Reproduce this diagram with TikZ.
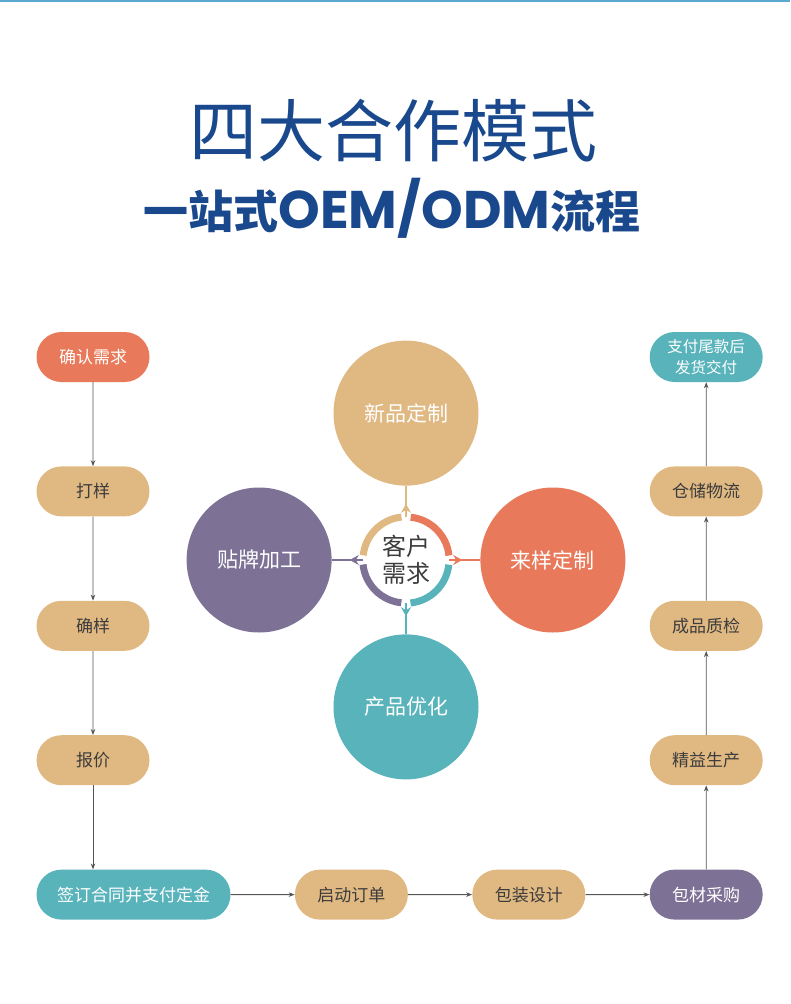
\documentclass[tikz,border=0pt]{standalone}
\usepackage{fontspec}
\setmainfont{Noto Sans CJK SC}
\newfontfamily\latinfont{Poppins}
\usetikzlibrary{arrows.meta, positioning, shapes.misc, decorations.markings}
\definecolor{tanfill}{RGB}{224,184,130}
\definecolor{coralfill}{RGB}{232,121,90}
\definecolor{tealfill}{RGB}{88,179,187}
\definecolor{plumfill}{RGB}{125,114,150}
\definecolor{titleblue}{RGB}{25,72,141}
\definecolor{topline}{RGB}{91,168,208}
\definecolor{linegray}{RGB}{85,85,85}
\definecolor{darktext}{RGB}{60,60,60}
\tikzset{
  x=1pt, y=-1pt, % one unit is one pixel of the layout, y runs down
  >={Stealth[length=6pt, width=4.5pt]}, % small heads for the flow arrows
  node distance=84pt and 64pt, % gap between the pills: vertical and
  % horizontal. Change if necessary.
  pill/.style={rounded rectangle, minimum width=117pt, minimum height=50pt,
    inner sep=2pt, fill=tanfill, text=darktext,
    font=\fontsize{17}{20}\selectfont}, % every step of the flow
  flow/.style={->, draw=linegray, line width=0.8pt}, % arrows between steps
}

\begin{document}
\begin{tikzpicture}[bigdisc/.style={circle, minimum size=145pt, inner sep=0pt,
    text=white, font=\fontsize{21}{24}\selectfont},
  ring/.style={line width=7pt},
  spoke/.style={line width=1.6pt, postaction={decorate},
    decoration={markings, mark=at position 0.42 with
      {\arrow{Stealth[length=9pt, width=10pt]}}}}]

  \useasboundingbox (0,0) rectangle (790,1004);
  \fill[topline] (0,0) rectangle (790,2);

  % titles
  \node[font=\fontsize{68}{80}\selectfont, text=titleblue] (title) at (393,131)
  {四大合作模式};
  \node[font=\bfseries\fontsize{45}{54}\selectfont, text=titleblue] (subtitle)
  at (392,208) {一站式{\latinfont\fontsize{53}{54}\selectfont OEM/ODM}流程};

  % left column
  \node[pill, fill=coralfill, text=white] (confirm) at (93,357) {确认需求};
  \node[pill, below=of confirm] (proof) {打样};
  \node[pill, below=of proof] (approve) {确样};
  \node[pill, below=of approve] (quote) {报价};
  \node[pill, fill=tealfill, text=white, minimum width=198pt,
  below=of quote.south west, anchor=north west] (contract) {签订合同并支付定金};

  % bottom row
  \node[pill, right=of contract] (kickoff) {启动订单};
  \node[pill, right=of kickoff] (pack) {包装设计};
  \node[pill, fill=plumfill, text=white, right=of pack] (material) {包材采购};

  % right column
  \node[pill, above=of material] (lean) {精益生产};
  \node[pill, above=of lean] (check) {成品质检};
  \node[pill, above=of check] (store) {仓储物流};
  \node[pill, fill=tealfill, text=white, align=center,
  font=\fontsize{15.5}{21.5}\selectfont, above=of store] (ship)
  {支付尾款后\\发货交付};

  \draw[flow] (confirm) -- (proof);
  \draw[flow] (proof) -- (approve);
  \draw[flow] (approve) -- (quote);
  \draw[flow] (quote.south) -- (quote.south |- contract.north);
  \draw[flow] (contract) -- (kickoff);
  \draw[flow] (kickoff) -- (pack);
  \draw[flow] (pack) -- (material);
  \draw[flow] (material) -- (lean);
  \draw[flow] (lean) -- (check);
  \draw[flow] (check) -- (store);
  \draw[flow] (store) -- (ship);

  % the four models round the customer
  \node[circle, minimum size=86pt, inner sep=0pt, align=center, text=darktext,
  font=\fontsize{24}{27}\selectfont] (hub) at (406,560) {客户\\需求};
  \node[bigdisc, fill=tanfill, above=31pt of hub] (newprod) {新品定制};
  \node[bigdisc, fill=coralfill, right=31pt of hub] (sample) {来样定制};
  \node[bigdisc, fill=tealfill, below=31pt of hub] (improve) {产品优化};
  \node[bigdisc, fill=plumfill, left=31pt of hub] (oem) {贴牌加工};

  \draw[ring, coralfill] (hub.6) arc[start angle=6, end angle=84, radius=43pt];
  \draw[ring, tanfill] (hub.96) arc[start angle=96, end angle=174, radius=43pt];
  \draw[ring, plumfill] (hub.186) arc[start angle=186, end angle=264, radius=43pt];
  \draw[ring, tealfill] (hub.276) arc[start angle=276, end angle=354, radius=43pt];

  \draw[spoke, tanfill] (hub.north) -- (newprod.south);
  \draw[spoke, coralfill] (hub.east) -- (sample.west);
  \draw[spoke, tealfill] (hub.south) -- (improve.north);
  \draw[spoke, plumfill] (hub.west) -- (oem.east);
\end{tikzpicture}
\end{document}
